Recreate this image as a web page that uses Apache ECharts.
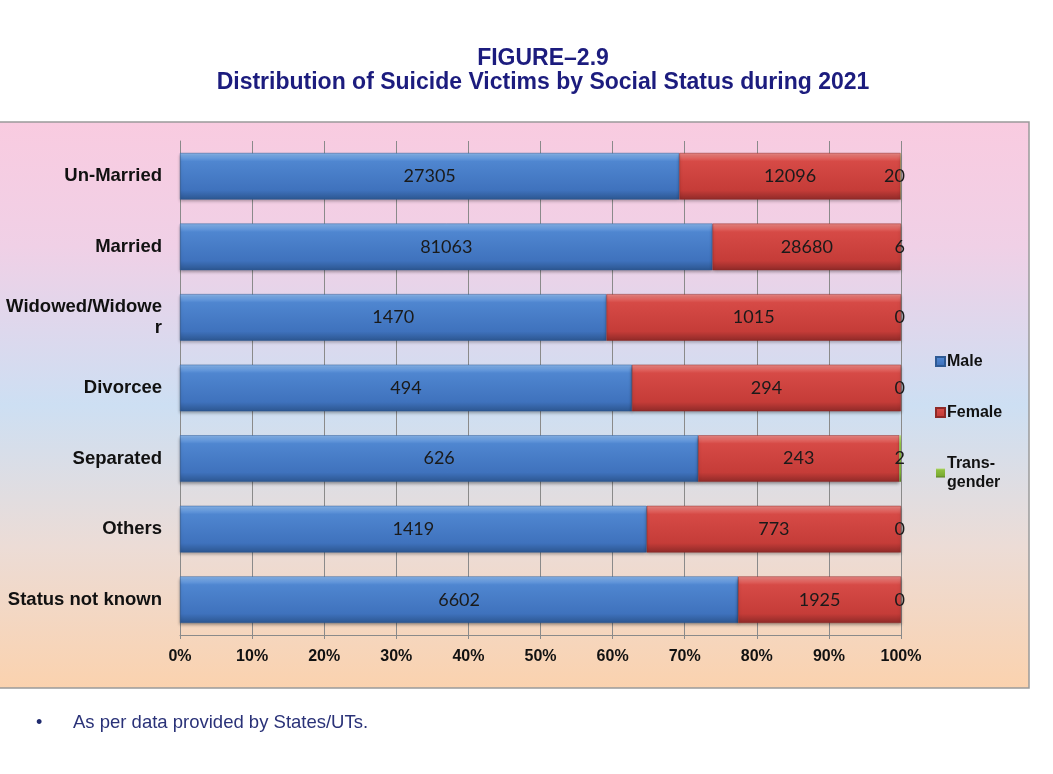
<!DOCTYPE html>
<html><head><meta charset="utf-8">
<script src="https://cdn.jsdelivr.net/npm/echarts@6/dist/echarts.min.js"></script>
<style>html,body{margin:0;padding:0;background:#fff}#c{width:1053px;height:774px}</style>
</head><body><div id="c"></div>
<script>
const categories = ['Un-Married','Married','Widowed/Widower','Divorcee','Separated','Others','Status not known'];
const male = [27305, 81063, 1470, 494, 626, 1419, 6602];
const female = [12096, 28680, 1015, 294, 243, 773, 1925];
const transgender = [20, 6, 0, 0, 2, 0, 0];
const xTicks = [0,10,20,30,40,50,60,70,80,90,100];

const totals = categories.map((c,i)=>male[i]+female[i]+transgender[i]);
const pct = arr => arr.map((v,i)=>({value: v/totals[i]*100, raw: v}));

function grad(c0,c1,c2,c3){
  return new echarts.graphic.LinearGradient(0,0,0,1,[
    {offset:0,color:c0},{offset:0.18,color:c1},{offset:0.8,color:c2},{offset:1,color:c3}]);
}
const blueG = grad('#8ab8ee','#4f86d0','#3f72bd','#2c5690');
const redG = grad('#ee8a86','#d64a46','#c53c38','#8f2a28');
const greenG = grad('#b6dc7a','#8ebf3f','#7aab32','#557a22');

const lbl = {show:true, color:'#1a1a1a', fontFamily:'Lato', fontSize:18, formatter:p=>p.data.raw};

const chart = echarts.init(document.getElementById('c'));
chart.setOption({
  animation:false,
  graphic:[{
    type:'rect', z:-10, silent:true,
    shape:{x:-2,y:122,width:1031,height:566},
    style:{
      fill:new echarts.graphic.LinearGradient(0,0,0,1,[
        {offset:0,color:'#f9cbe0'},{offset:0.22,color:'#f0d0e6'},{offset:0.5,color:'#cddff3'},
        {offset:0.75,color:'#ecdcd6'},{offset:1,color:'#fbd2ae'}]),
      stroke:'#9a9a9a', lineWidth:1.5
    }
  },{
    type:'text', left:36, top:714, silent:true,
    style:{text:'•', fontFamily:'Liberation Sans', fontSize:18, fill:'#1f2a6e'}
  },{
    type:'text', left:73, top:713, silent:true,
    style:{text:'As per data provided by States/UTs.', fontFamily:'Liberation Sans', fontSize:18.5, fill:'#2a3278'}
  }],
  title:{
    text:'FIGURE–2.9\nDistribution of Suicide Victims by Social Status during 2021',
    left:538, textAlign:'center', top:42,
    textStyle:{fontFamily:'Liberation Sans', fontWeight:'bold', fontSize:23, color:'#1c1c7e', lineHeight:24}
  },
  legend:{
    orient:'vertical', left:930, top:347, itemGap:32,
    itemWidth:9, itemHeight:9, icon:'rect',
    data:['Male','Female','Trans-\ngender'],
    textStyle:{fontFamily:'Liberation Sans', fontWeight:'bold', fontSize:16, color:'#111', lineHeight:19, padding:[0,0,0,-3]}
  },
  grid:{left:180, right:152, top:141, bottom:139, containLabel:false},
  xAxis:{
    type:'value', min:0, max:100, interval:10,
    axisLabel:{formatter:'{value}%', fontFamily:'Liberation Sans', fontWeight:'bold', fontSize:16, color:'#111', margin:14},
    axisLine:{show:true, lineStyle:{color:'#8a8a8a'}},
    axisTick:{show:true, length:4, lineStyle:{color:'#8a8a8a'}},
    splitLine:{show:true, lineStyle:{color:'#8a8a8a', width:1}}
  },
  yAxis:{
    type:'category', data:categories, inverse:true,
    axisLine:{show:true, lineStyle:{color:'#8a8a8a'}},
    axisTick:{show:false},
    axisLabel:{fontFamily:'Liberation Sans', fontWeight:'bold', fontSize:18.5, color:'#111', margin:18,
      lineHeight:21,
      formatter:v=> v==='Widowed/Widower' ? 'Widowed/Widowe\nr' : v, align:'right'}
  },
  series:[
    {name:'Male', type:'bar', stack:'s', barCategoryGap:'34%', data:pct(male),
      itemStyle:{color:blueG, borderColor:'#2f5a94', borderWidth:0.5, shadowColor:'rgba(0,0,0,0.35)', shadowBlur:3, shadowOffsetY:2},
      label:Object.assign({position:'inside'}, lbl)},
    {name:'Female', type:'bar', stack:'s', data:pct(female),
      itemStyle:{color:redG, borderColor:'#8f2a28', borderWidth:0.5, shadowColor:'rgba(0,0,0,0.35)', shadowBlur:3, shadowOffsetY:2},
      label:Object.assign({position:'inside'}, lbl)},
    {name:'Trans-\ngender', type:'bar', stack:'s', data:pct(transgender),
      itemStyle:{color:greenG},
      label:Object.assign({position:'insideRight', offset:[9,0]}, lbl)}
  ]
});
</script></body></html>
